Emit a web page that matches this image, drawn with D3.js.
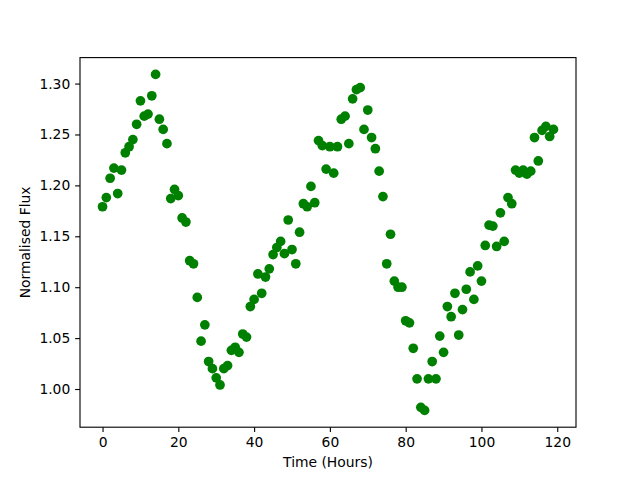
<!DOCTYPE html>
<html>
<head>
<meta charset="utf-8">
<script src="https://cdn.jsdelivr.net/npm/d3@7"></script>
<style>
  body { margin: 0; background: #fff; }
  svg text { font-family: "DejaVu Sans", sans-serif; }
</style>
</head>
<body>
<div id="chart"></div>
<script>
// Time in hours, one reading per hour
const hours = d3.range(0, 120);

// Normalised flux
const flux = [
  1.179, 1.188, 1.207, 1.217, 1.192, 1.215, 1.232, 1.238, 1.245, 1.260,
  1.283, 1.268, 1.270, 1.288, 1.309, 1.265, 1.255, 1.241, 1.187, 1.196,
  1.190, 1.168, 1.164, 1.126, 1.123, 1.090, 1.047, 1.063, 1.027, 1.020,
  1.011, 1.004, 1.020, 1.023, 1.038, 1.041, 1.036, 1.054, 1.051, 1.081,
  1.088, 1.113, 1.094, 1.110, 1.118, 1.132, 1.139, 1.145, 1.133, 1.166,
  1.137, 1.123, 1.154, 1.182, 1.179, 1.199, 1.183, 1.244, 1.239, 1.216,
  1.238, 1.212, 1.238, 1.265, 1.268, 1.241, 1.285, 1.294, 1.296, 1.255,
  1.274, 1.247, 1.236, 1.214, 1.189, 1.123, 1.152, 1.106, 1.100, 1.100,
  1.067, 1.065, 1.040, 1.010, 0.982, 0.979, 1.010, 1.027, 1.010, 1.052,
  1.036, 1.081, 1.071, 1.094, 1.053, 1.078, 1.098, 1.115, 1.088, 1.121,
  1.106, 1.141, 1.161, 1.160, 1.140, 1.173, 1.145, 1.188, 1.182, 1.215,
  1.212, 1.215, 1.211, 1.214, 1.247, 1.224, 1.254, 1.258, 1.248, 1.255
];

const xTicks = [0, 20, 40, 60, 80, 100, 120];
const yTicks = [1.00, 1.05, 1.10, 1.15, 1.20, 1.25, 1.30];

const W = 640, H = 480;
const margin = { top: 57.6, right: 64, bottom: 52.8, left: 80 };
const width = W - margin.left - margin.right;
const height = H - margin.top - margin.bottom;
const pt = 100 / 72;

const points = hours.map((h, i) => ({ x: h, y: flux[i] }));

// matplotlib-style 5% padding
const pad = (ext) => {
  const d = (ext[1] - ext[0]) * 0.05;
  return [ext[0] - d, ext[1] + d];
};

const x = d3.scaleLinear().domain(pad(d3.extent(hours))).range([0, width]);
const y = d3.scaleLinear().domain(pad(d3.extent(flux))).range([height, 0]);

const svg = d3.select('#chart').append('svg')
  .attr('width', W)
  .attr('height', H);

const g = svg.append('g')
  .attr('transform', `translate(${margin.left},${margin.top})`);

// marker 6pt plus 1pt edge
g.selectAll('circle.pt')
  .data(points)
  .join('circle')
    .attr('class', 'pt')
    .attr('cx', d => x(d.x))
    .attr('cy', d => y(d.y))
    .attr('r', 3.5 * pt)
    .attr('fill', '#008000');

const fontSize = 10 * pt;

const xAxis = g.append('g')
  .attr('transform', `translate(0,${height})`)
  .call(d3.axisBottom(x).tickValues(xTicks).tickFormat(d3.format('d'))
    .tickSize(3.5 * pt).tickPadding(3.5 * pt));

const yAxis = g.append('g')
  .call(d3.axisLeft(y).tickValues(yTicks).tickFormat(d3.format('.2f'))
    .tickSize(3.5 * pt).tickPadding(3.5 * pt));

[xAxis, yAxis].forEach(ax => {
  ax.select('.domain').remove();
  ax.selectAll('line').attr('stroke', '#000').attr('stroke-width', 0.8 * pt);
  ax.selectAll('text')
    .attr('fill', '#000')
    .style('font-size', fontSize + 'px')
    .style('font-family', '"DejaVu Sans", sans-serif');
});

// frame
g.append('rect')
  .attr('width', width)
  .attr('height', height)
  .attr('fill', 'none')
  .attr('stroke', '#000')
  .attr('stroke-width', 0.8 * pt);

svg.append('text')
  .attr('x', margin.left + width / 2)
  .attr('y', 467)
  .attr('text-anchor', 'middle')
  .style('font-size', fontSize + 'px')
  .text('Time (Hours)');

svg.append('text')
  .attr('transform', `translate(30,${margin.top + height / 2}) rotate(-90)`)
  .attr('text-anchor', 'middle')
  .style('font-size', fontSize + 'px')
  .text('Normalised Flux');
</script>
</body>
</html>
